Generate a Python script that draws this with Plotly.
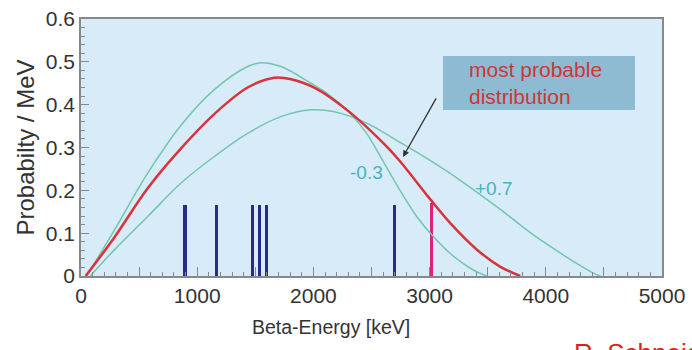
import plotly.graph_objects as go

# ---- data ----
red_x = [40, 287, 574, 861, 1147, 1434, 1664, 1800, 2028, 2315, 2602, 2745, 3003, 3176, 3405, 3606, 3780]
red_y = [0.0, 0.090, 0.205, 0.298, 0.378, 0.440, 0.463, 0.460, 0.437, 0.382, 0.310, 0.268, 0.180, 0.124, 0.062, 0.022, 0.0]

up_x = [50, 287, 574, 861, 1147, 1434, 1550, 1721, 1979, 2114, 2315, 2458, 2602, 2745, 2889, 3032, 3176, 3376, 3491]
up_y = [0.0, 0.107, 0.240, 0.352, 0.435, 0.489, 0.498, 0.489, 0.450, 0.427, 0.380, 0.333, 0.267, 0.200, 0.139, 0.092, 0.053, 0.014, 0.0]

lo_x = [80, 287, 574, 861, 1147, 1434, 1721, 1979, 2171, 2458, 2745, 3032, 3319, 3606, 3864, 4000, 4250, 4400, 4470]
lo_y = [0.0, 0.061, 0.139, 0.217, 0.279, 0.333, 0.372, 0.388, 0.384, 0.357, 0.312, 0.265, 0.213, 0.156, 0.102, 0.076, 0.032, 0.008, 0.0]

lines_x = [895, 1162, 1480, 1540, 1600, 2694]
lines_y = [0.166, 0.166, 0.166, 0.166, 0.166, 0.166]
pink_x = [3020]
pink_y = [0.170]

x_tickvals = [0, 500, 1000, 1500, 2000, 2500, 3000, 3500, 4000, 4500, 5000]
x_ticktext = ["0", "", "1000", "", "2000", "", "3000", "", "4000", "", "5000"]
y_tickvals = [0, 0.1, 0.2, 0.3, 0.4, 0.5, 0.6]
y_ticktext = ["0", "0.1", "0.2", "0.3", "0.4", "0.5", "0.6"]

GREEN = "#72c6ae"
RED = "#d8323a"
NAVY = "#2b2a86"
PINK = "#e0207e"
TEAL = "#45b3be"
FONT = "Liberation Sans, Arial, sans-serif"

fig = go.Figure()
fig.add_trace(go.Bar(x=lines_x, y=lines_y, width=26, marker=dict(color=NAVY, line=dict(width=0)), showlegend=False))
fig.add_trace(go.Bar(x=pink_x, y=pink_y, width=26, marker=dict(color=PINK, line=dict(width=0)), showlegend=False))
fig.add_trace(go.Scatter(x=lo_x, y=lo_y, mode="lines", line=dict(color=GREEN, width=1.5, shape="spline", smoothing=1), showlegend=False))
fig.add_trace(go.Scatter(x=up_x, y=up_y, mode="lines", line=dict(color=GREEN, width=1.5, shape="spline", smoothing=1), showlegend=False))
fig.add_trace(go.Scatter(x=red_x, y=red_y, mode="lines", line=dict(color=RED, width=2.5, shape="spline", smoothing=1), showlegend=False))

fig.update_layout(
    width=692, height=350,
    margin=dict(l=81, r=30, t=19, b=74),
    paper_bgcolor="white",
    plot_bgcolor="#d8ebf8",
    font=dict(family=FONT, color="#333333", size=18),
    bargap=0,
    xaxis=dict(
        range=[0, 5000], tickvals=x_tickvals, ticktext=x_ticktext,
        ticks="inside", ticklen=9, tickcolor="#888", tickwidth=1,
        minor=dict(dtick=100, ticks="inside", ticklen=4, tickcolor="#888", tickwidth=1),
        showgrid=False, zeroline=False, showline=True, linecolor="#888", linewidth=1.5, mirror=True,
        tickfont=dict(size=21, color="#333"),
        automargin=False,
    ),
    yaxis=dict(
        range=[0, 0.6], tickvals=y_tickvals, ticktext=y_ticktext,
        ticks="inside", ticklen=8, tickcolor="#888", tickwidth=1,
        minor=dict(dtick=0.02, ticks="inside", ticklen=4, tickcolor="#888", tickwidth=1),
        showgrid=False, zeroline=False, showline=True, linecolor="#888", linewidth=1.5, mirror=True,
        tickfont=dict(size=21, color="#333"),
        title=dict(text="Probabilty / MeV", font=dict(size=24, color="#333"), standoff=4),
        automargin=False,
    ),
    shapes=[dict(type="rect", xref="paper", yref="paper", x0=0.623, x1=0.9535, y0=0.646, y1=0.856,
                 fillcolor="#8fbbd2", line=dict(width=0), layer="above")],
    annotations=[
        dict(xref="paper", yref="paper", x=0.430, y=-0.198, xanchor="center", yanchor="middle",
             text="Beta-Energy [keV]", showarrow=False, font=dict(size=19.5, color="#333")),
        dict(xref="paper", yref="paper", x=0.664, y=0.751, xanchor="left", yanchor="middle", align="left",
             text="most probable<br>distribution", showarrow=False, font=dict(size=21, color="#d03535")),
        dict(x=2771, y=0.278, ax=34, ay=-60, text="", showarrow=True, arrowhead=2, arrowsize=1,
             arrowwidth=1.3, arrowcolor="#333"),
        dict(x=2453, y=0.241, text="-0.3", showarrow=False, font=dict(size=19, color=TEAL)),
        dict(x=3554, y=0.205, text="+0.7", showarrow=False, font=dict(size=19, color=TEAL)),
        dict(xref="paper", yref="paper", x=0.845, y=-0.2335, xanchor="left", yanchor="top",
             text="R. Schneider", showarrow=False, font=dict(size=26, color="#e02020")),
    ],
)

fig.write_html("out.html")
